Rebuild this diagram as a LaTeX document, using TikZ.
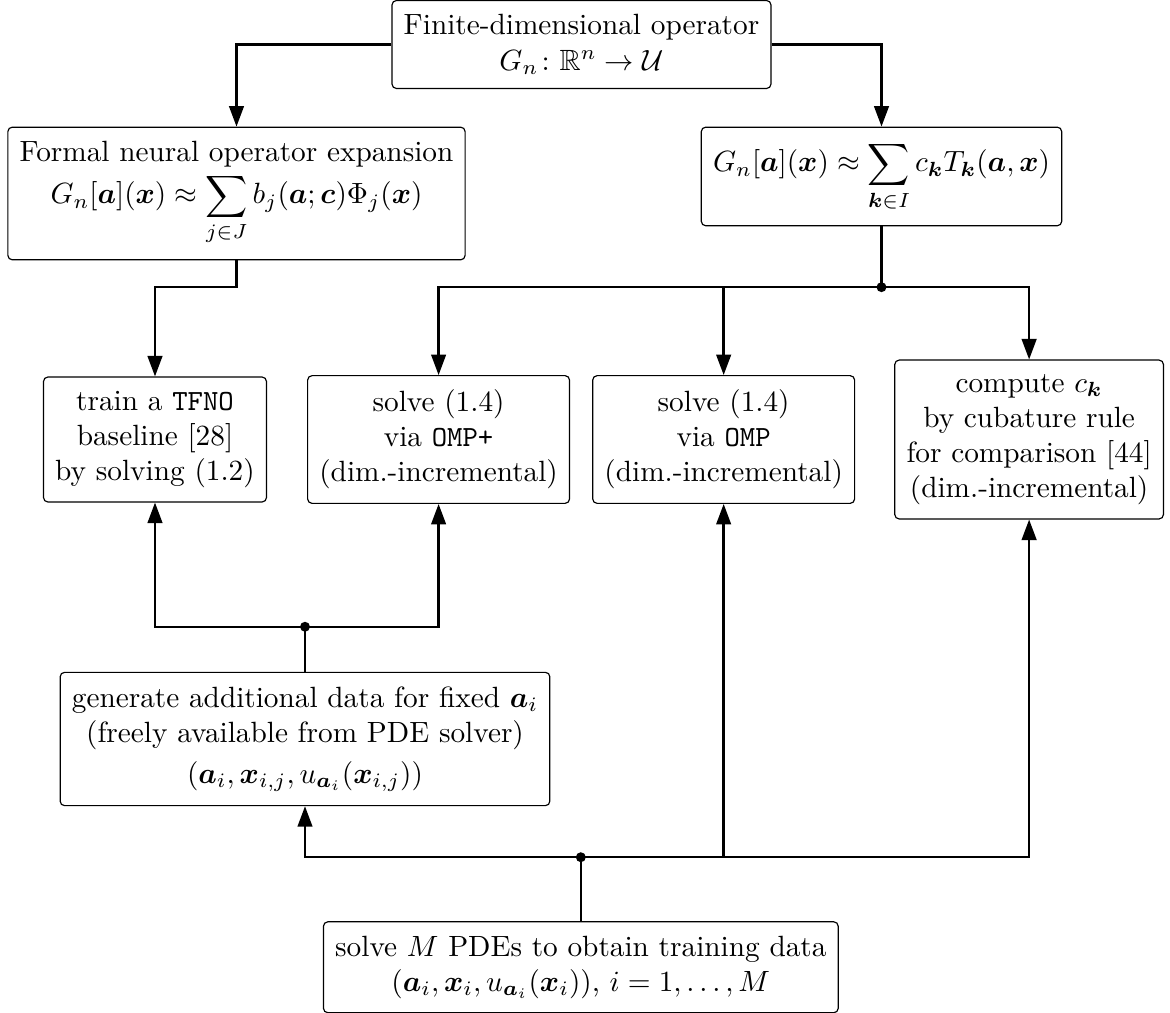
\documentclass[tikz,border=0pt]{standalone}
\usepackage{amssymb,amsmath,bm}
\usepackage{tikz}
\usetikzlibrary{arrows.meta,positioning}

\tikzset{
  box/.style={draw,rounded corners=1.5pt,align=center,inner xsep=4pt,inner ysep=4.8pt},
  flow/.style={line width=0.8pt},
  arr/.style={flow,-{Triangle[length=7pt,width=5pt]}},
}

\begin{document}
\begin{tikzpicture}
      \useasboundingbox (-6.978,0.534) rectangle (7.062,-11.61);

      % Top: the operator and its two expansions
      \node[box] (fdo) {Finite-dimensional operator\\ $G_n\colon \mathbb{R}^n\to\mathcal{U}$};
      \node[box,below=0.45cm of fdo,xshift=-4.14cm] (expn)
        {Formal neural operator expansion\\[1pt]
         $\displaystyle G_n[\bm{a}](\bm{x})\approx\sum_{j\in J} b_j(\bm{a};\bm{c})\Phi_j(\bm{x})$};
      \node[box,below=0.45cm of fdo,xshift=3.6cm] (sumk)
        {$\displaystyle G_n[\bm{a}](\bm{x})\approx\sum_{\bm{k}\in I} c_{\bm{k}}T_{\bm{k}}(\bm{a},\bm{x})$};

      \draw[arr] (fdo.west) -| (expn.north);
      \draw[arr] (fdo.east) -| (sumk.north);

      % Middle: the four ways to get the coefficients
      \node[box] (tfno) at (-5.118,-4.74) {train a \texttt{TFNO}\\ baseline [28]\\ by solving (1.2)};
      \node[box,right=0.48cm of tfno] (ompp) {solve (1.4)\\ via \texttt{OMP+}\\ (dim.-incremental)};
      \node[box,right=0.264cm of ompp] (omp) {solve (1.4)\\ via \texttt{OMP}\\ (dim.-incremental)};
      \node[box,right=0.468cm of omp] (cub)
        {compute $c_{\bm{k}}$\\ by cubature rule\\ for comparison [44]\\ (dim.-incremental)};

      \coordinate[below=0.73cm of sumk] (split);
      \draw[arr] (expn.south) -- (expn.south |- split) -| (tfno.north);
      \draw[flow] (sumk.south) -- (split);
      \draw[arr] (split) -| (ompp.north);
      \draw[arr] (split) -| (omp.north);
      \draw[arr] (split) -| (cub.north);
      \fill (split) circle (1.7pt);

      % Bottom: the data
      \node[box,below=2.03cm of tfno,xshift=1.8cm] (gen)
        {generate additional data for fixed $\bm{a}_i$\\
         (freely available from PDE solver)\\[2pt]
         $(\bm{a}_i,\bm{x}_{i,j},u_{\bm{a}_i}(\bm{x}_{i,j}))$};
      \node[box,below=1.38cm of gen,xshift=3.31cm] (pde)
        {solve $M$ PDEs to obtain training data\\
         $(\bm{a}_i,\bm{x}_i,u_{\bm{a}_i}(\bm{x}_i))$, $i=1,\ldots,M$};

      \coordinate[above=0.54cm of gen] (merge);
      \draw[flow] (gen.north) -- (merge);
      \draw[arr] (merge) -| (tfno.south);
      \draw[arr] (merge) -| (ompp.south);
      \fill (merge) circle (1.7pt);

      \coordinate[above=0.768cm of pde] (feed);
      \draw[flow] (pde.north) -- (feed);
      \draw[arr] (feed) -| (gen.south);
      \draw[arr] (feed) -| (omp.south);
      \draw[arr] (feed) -| (cub.south);
      \fill (feed) circle (1.7pt);

    \end{tikzpicture}
\end{document}
